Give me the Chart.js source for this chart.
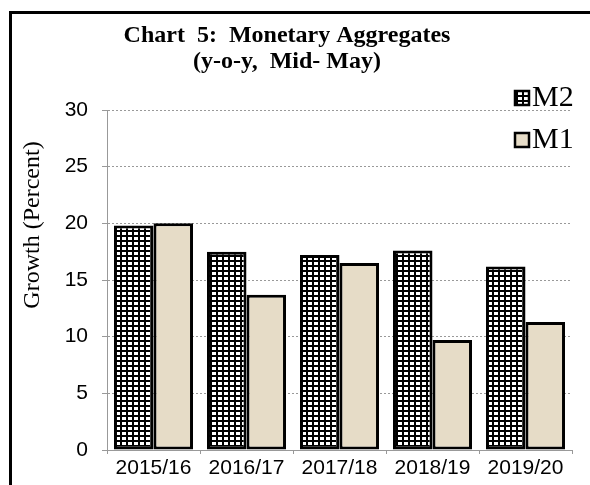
<!DOCTYPE html>
<html><head><meta charset="utf-8">
<script src="https://cdn.jsdelivr.net/npm/chart.js@4/dist/chart.umd.min.js"></script>
<style>html,body{margin:0;padding:0;background:#fff}#wrap{width:590px;height:485px}</style>
</head><body><div id="wrap"><canvas id="c" width="590" height="485"></canvas></div>
<script>
const categories = ["2015/16","2016/17","2017/18","2018/19","2019/20"];
const m2Values = [19.8, 17.5, 17.2, 17.6, 16.2];
const m1Values = [20.0, 13.7, 16.5, 9.7, 11.3];
const yTicks = [0,5,10,15,20,25,30];
const titleLines = ["Chart  5:  Monetary Aggregates","(y-o-y,  Mid- May)"];
const seriesNames = ["M2","M1"];
const yAxisTitle = "Growth (Percent)";

function gridPattern(){
  const p=document.createElement('canvas');p.width=6;p.height=5;
  const g=p.getContext('2d');g.fillStyle='#fff';g.fillRect(0,0,6,5);
  g.fillStyle='#000';g.fillRect(0,0,2,5);g.fillRect(0,0,6,2);
  return document.getElementById('c').getContext('2d').createPattern(p,'repeat');
}
const m2Fill = gridPattern();
const m1Fill = '#E6DCC7';
const serif = '"Liberation Serif", "Times New Roman", serif';
const sans = '"Liberation Sans", Arial, sans-serif';

const decor = {
  id:'decor',
  afterDraw(chart){
    const ctx=chart.ctx;ctx.save();
    ctx.strokeStyle='#000';ctx.lineWidth=3;
    ctx.strokeRect(10.5,12.5,620,520);
    ctx.fillStyle='#000';ctx.textAlign='center';ctx.textBaseline='middle';
    ctx.font='bold 24px '+serif;
    ctx.fillText(titleLines[0],287,36);
    ctx.fillText(titleLines[1],287,62);
    ctx.save();ctx.translate(33,225);ctx.rotate(-Math.PI/2);
    ctx.font='24px '+serif;ctx.fillText(yAxisTitle,0,0);ctx.restore();
    const fills=[m2Fill,m1Fill];const ys=[97,139];
    chart.data.datasets.forEach((ds,i)=>{
      ctx.fillStyle=fills[i];ctx.fillRect(515,ys[i]-6,14,14);
      ctx.lineWidth=2.5;ctx.strokeStyle='#000';ctx.strokeRect(515,ys[i]-6,14,14);
      ctx.fillStyle='#000';ctx.textAlign='left';
      ctx.font='30px '+serif;
      ctx.fillText(ds.label,532,ys[i]+1);
    });
    ctx.restore();
  }
};

new Chart(document.getElementById('c'),{
  type:'bar',
  data:{labels:categories,datasets:[
    {label:seriesNames[0],data:m2Values,backgroundColor:m2Fill,borderColor:'#000',borderWidth:3,borderSkipped:false},
    {label:seriesNames[1],data:m1Values,backgroundColor:m1Fill,borderColor:'#000',borderWidth:3,borderSkipped:false}
  ]},
  options:{
    responsive:false,animation:false,
    layout:{padding:{top:110,right:18,left:0,bottom:0}},
    datasets:{bar:{categoryPercentage:0.85,barPercentage:1}},
    plugins:{legend:{display:false},title:{display:false},tooltip:{enabled:false}},
    scales:{
      x:{
        grid:{display:true,drawOnChartArea:false,offset:true,color:'#999',tickLength:4},
        border:{display:true,color:'#999',dash:[2,2]},
        ticks:{color:'#000',font:{family:sans,size:21},padding:2,maxRotation:0},
        afterFit(s){s.height=35;}
      },
      y:{
        min:0,max:30,
        afterBuildTicks(s){s.ticks=yTicks.map(v=>({value:v}));},
        grid:{color:'#999',tickLength:5,tickColor:'#999'},
        border:{display:true,color:'#999',dash:[2,2]},
        ticks:{color:'#000',font:{family:sans,size:21},padding:14},
        afterFit(s){s.width=107;}
      }
    }
  },
  plugins:[decor]
});
</script></body></html>
